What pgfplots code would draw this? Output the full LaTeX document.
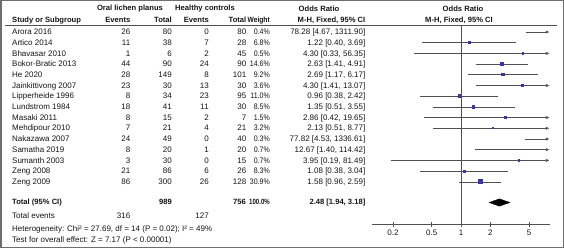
\documentclass[border=0pt]{standalone}
\usepackage{fontspec}
\setmainfont{Liberation Sans}
\usepackage{graphicx}
\usepackage{pgfplots}
\pgfplotsset{compat=1.18}
\usepackage{pgfplotstable}
\usetikzlibrary{arrows.meta}
\definecolor{lg}{HTML}{505050}
\definecolor{frame}{HTML}{6E6E6E}
\definecolor{mblue}{HTML}{3535B0}
\definecolor{txt}{HTML}{141414}
\newcommand\fs{\fontsize{8}{9}\selectfont}
\newcommand\fb{\fontsize{7.6}{9}\selectfont\bfseries}
\newcommand\nw[1]{\scalebox{0.88}[1]{#1}}

% forest data: y position, odds ratio, lower, upper, weight (%)
\pgfplotstableread{
y or lo hi w
-32 78.28 4.67 1311.90 0.4
-42.7 1.22 0.40 3.69 6.8
-53.4 4.30 0.33 56.35 0.5
-64.1 2.63 1.41 4.91 14.6
-74.8 2.69 1.17 6.17 9.2
-85.5 4.30 1.41 13.07 3.6
-96.2 0.96 0.38 2.42 11.0
-106.9 1.35 0.51 3.55 8.5
-117.6 2.86 0.42 19.65 1.5
-128.3 2.13 0.51 8.77 3.2
-139 77.82 4.53 1336.61 0.3
-149.7 12.67 1.40 114.42 0.7
-160.4 3.95 0.19 81.49 0.7
-171.1 1.08 0.38 3.04 8.3
-181.8 1.58 0.96 2.59 30.9
}\fdata

\begin{document}
\begin{tikzpicture}[x=1pt,y=1pt,every node/.style={inner sep=0pt,text=txt,font=\fs}]
\useasboundingbox (0,0) rectangle (564,-248);
\draw[frame,line width=1.5pt] (0.75,-0.75) rectangle (563.25,-247.25);
\draw[lg,line width=0.6pt] (5,-25) -- (557,-25);

% headers
\node[font=\fb] at (130,-9) {Oral lichen planus};
\node[font=\fb] at (205,-9) {Healthy controls};
\node[font=\fb] at (319,-9) {Odds Ratio};
\node[font=\fb] at (463,-9) {Odds Ratio};
\node[font=\fb,anchor=base west] at (12,-22.5) {Study or Subgroup};
\node[font=\fb,anchor=base east] at (130.5,-22.5) {Events};
\node[font=\fb,anchor=base east] at (172,-22.5) {Total};
\node[font=\fb,anchor=base east] at (209,-22.5) {Events};
\node[font=\fb,anchor=base east] at (246.5,-22.5) {Total};
\node[font=\fb,anchor=base east] at (270,-22.5) {\nw{Weight}};
\node[font=\fb,anchor=base east] at (365.5,-22.5) {M-H, Fixed, 95\% CI};
\node[font=\fb,anchor=base] at (459,-22.5) {M-H, Fixed, 95\% CI};

% study rows
\foreach \y/\s/\ea/\na/\eb/\nb/\w/\o in {
32/Arora 2016/26/80/0/80/0.4/{78.28 [4.67, 1311.90]},
42.7/Artico 2014/11/38/7/28/6.8/{1.22 [0.40, 3.69]},
53.4/Bhavasar 2010/1/6/2/45/0.5/{4.30 [0.33, 56.35]},
64.1/Bokor-Bratic 2013/44/90/24/90/14.6/{2.63 [1.41, 4.91]},
74.8/He 2020/28/149/8/101/9.2/{2.69 [1.17, 6.17]},
85.5/Jainkittivong 2007/23/30/13/30/3.6/{4.30 [1.41, 13.07]},
96.2/Lipperheide 1996/8/34/23/95/11.0/{0.96 [0.38, 2.42]},
106.9/Lundstrom 1984/18/41/11/30/8.5/{1.35 [0.51, 3.55]},
117.6/Masaki 2011/8/15/2/7/1.5/{2.86 [0.42, 19.65]},
128.3/Mehdipour 2010/7/21/4/21/3.2/{2.13 [0.51, 8.77]},
139/Nakazawa 2007/24/49/0/40/0.3/{77.82 [4.53, 1336.61]},
149.7/Samatha 2019/8/20/1/20/0.7/{12.67 [1.40, 114.42]},
160.4/Sumanth 2003/3/30/0/15/0.7/{3.95 [0.19, 81.49]},
171.1/Zeng 2008/21/86/6/26/8.3/{1.08 [0.38, 3.04]},
181.8/Zeng 2009/86/300/26/128/30.9/{1.58 [0.96, 2.59]}}{
  \node[anchor=base west] at (12,-\y-2.7) {\s};
  \node[anchor=base east] at (130.5,-\y-2.7) {\ea};
  \node[anchor=base east] at (172,-\y-2.7) {\na};
  \node[anchor=base east] at (209,-\y-2.7) {\eb};
  \node[anchor=base east] at (246.5,-\y-2.7) {\nb};
  \node[anchor=base east] at (270,-\y-2.7) {\nw{\w\%}};
  \node[anchor=base east] at (365.5,-\y-2.7) {\o};
}

% totals
\node[font=\fb,anchor=base west] at (12,-204.7) {Total (95\% CI)};
\node[font=\fb,anchor=base east] at (172,-204.7) {989};
\node[font=\fb,anchor=base east] at (246,-204.7) {756};
\node[font=\fb,anchor=base east] at (270,-204.7) {\scalebox{0.8}[1]{100.0\%}};
\node[font=\fb,anchor=base east] at (365.5,-204.7) {2.48 [1.94, 3.18]};
\node[anchor=base west] at (12,-218.7) {Total events};
\node[anchor=base east] at (130.5,-218.7) {316};
\node[anchor=base east] at (209,-218.7) {127};
\node[anchor=base west] at (12,-231.5) {Heterogeneity: Chi² = 27.69, df = 14 (P = 0.02); I² = 49\%};
\node[anchor=base west] at (12,-242.5) {Test for overall effect: Z = 7.17 (P < 0.00001)};

\begin{axis}[
  at={(372pt,-224pt)}, anchor=south west,
  width=178pt, height=199pt, scale only axis,
  xmode=log, xmin=0.122, xmax=8.2, ymin=-224, ymax=-25,
  axis x line=bottom, axis y line=none,
  axis line style={-, draw=lg, line width=0.6pt},
  xtick={0.2,0.5,1,2,5}, xticklabels={0.2,0.5,1,2,5},
  minor xtick={},
  tick align=center, major tick length=5pt,
  tick style={draw=lg, line width=0.6pt},
  xticklabel style={font=\fs, text=txt, inner sep=0pt, yshift=-3pt},
]
\addplot[draw=lg, line width=0.6pt] coordinates {(1,-25) (1,-224)};
% confidence intervals
\pgfplotsset{ci/.style={draw=lg, line width=0.6pt}, cia/.style={ci, -{Latex[length=3.5pt,width=3.2pt]}}}
\addplot[cia] coordinates {(4.67,-32) (8.1,-32)};
\addplot[ci] coordinates {(0.40,-42.7) (3.69,-42.7)};
\addplot[cia] coordinates {(0.33,-53.4) (8.1,-53.4)};
\addplot[ci] coordinates {(1.41,-64.1) (4.91,-64.1)};
\addplot[ci] coordinates {(1.17,-74.8) (6.17,-74.8)};
\addplot[cia] coordinates {(1.41,-85.5) (8.1,-85.5)};
\addplot[ci] coordinates {(0.38,-96.2) (2.42,-96.2)};
\addplot[ci] coordinates {(0.51,-106.9) (3.55,-106.9)};
\addplot[cia] coordinates {(0.42,-117.6) (8.1,-117.6)};
\addplot[cia] coordinates {(0.51,-128.3) (8.1,-128.3)};
\addplot[cia] coordinates {(4.53,-139) (8.1,-139)};
\addplot[cia] coordinates {(1.40,-149.7) (8.1,-149.7)};
\addplot[cia] coordinates {(0.19,-160.4) (8.1,-160.4)};
\addplot[ci] coordinates {(0.38,-171.1) (3.04,-171.1)};
\addplot[ci] coordinates {(0.96,-181.8) (2.59,-181.8)};
% point estimates
\addplot[scatter, only marks, mark=square*,
  scatter/use mapped color={draw=mblue, fill=mblue},
  mark options={line width=0pt},
  visualization depends on={\thisrow{w} \as \wt},
  scatter/@pre marker code/.append style={/tikz/mark size={max(0.65,0.38*sqrt(\wt))}}]
  table[x=or, y=y] \fdata;
% pooled estimate
\addplot[fill=black, draw=black, line width=0.3pt] coordinates {(1.94,-202.5) (2.48,-198.8) (3.18,-202.5) (2.48,-206.2)} -- cycle;
\end{axis}
\end{tikzpicture}
\end{document}
